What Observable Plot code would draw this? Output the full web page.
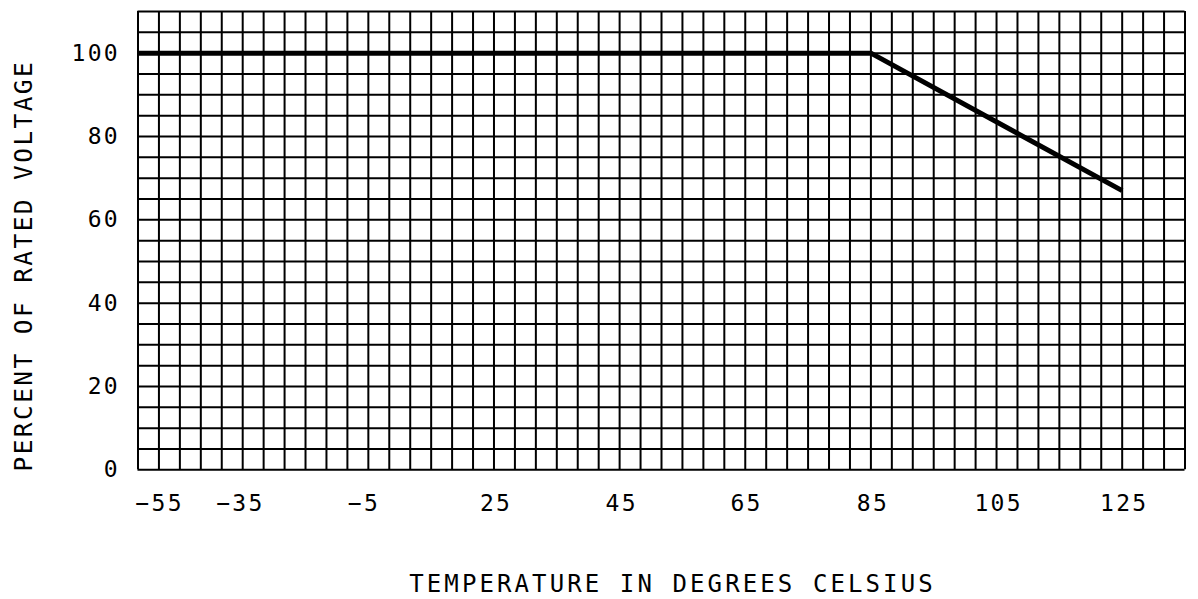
<!DOCTYPE html>
<html>
<head>
<meta charset="utf-8">
<script src="https://cdn.jsdelivr.net/npm/d3@7"></script>
<script src="https://cdn.jsdelivr.net/npm/@observablehq/plot@0.6"></script>
<style>
  html, body { margin: 0; padding: 0; background: #fff; }
  svg text { letter-spacing: 2.3px; }
  svg text.ttl, svg g.ttl text { letter-spacing: 3.1px; }
  svg g.yttl text { letter-spacing: 2.4px; }
</style>
</head>
<body>
<div id="chart"></div>
<script>
// Y axis: percent of rated voltage
const voltTicks = [0, 20, 40, 60, 80, 100];
// X axis: temperature labels and the grid-column position where each label sits
const tempLabels = ["−55", "−35", "−5", "25", "45", "65", "85", "105", "125"];
const labelCols = [1.03, 4.89, 10.79, 17.1, 23.1, 29.06, 35.1, 41.1, 47.1];
// Derating curve, x in grid columns (left edge = 0, 85 °C = 35, 125 °C = 47)
const curveCols = [0, 35, 47];
const curveVolts = [100, 100, 67];
// Graph-paper grid
const gridCols = d3.range(0, 51, 1);
const gridRows = d3.range(0, 111, 5);

const xTitle = "TEMPERATURE IN DEGREES CELSIUS";
const yTitle = "PERCENT OF RATED VOLTAGE";

const curve = curveCols.map((c, i) => ({col: c, volt: curveVolts[i]}));
const labels = tempLabels.map((t, i) => ({t, col: labelCols[i]}));

const chart = Plot.plot({
  width: 1198,
  height: 599,
  marginLeft: 137.5,
  marginRight: 13.5,
  marginTop: 11,
  marginBottom: 129.7,
  style: {fontFamily: "DejaVu Sans Mono", background: "#fff", color: "#000"},
  x: {domain: [0, 50], axis: null},
  y: {domain: [0, 110], axis: null},
  marks: [
    Plot.ruleX(gridCols, {stroke: "#000", strokeWidth: 2}),
    Plot.ruleY(gridRows, {stroke: "#000", strokeWidth: 2}),
    Plot.line(curve, {x: "col", y: "volt", stroke: "#000", strokeWidth: 5, strokeLinecap: "butt", strokeLinejoin: "miter"}),
    Plot.text(voltTicks, {y: d => d, frameAnchor: "left", textAnchor: "end", dx: -18, fontSize: 23, fill: "#000"}),
    Plot.text(labels, {x: "col", text: "t", frameAnchor: "bottom", lineAnchor: "middle", dy: 34, fontSize: 23, fill: "#000"}),
    Plot.text([xTitle], {frameAnchor: "bottom", textAnchor: "middle", lineAnchor: "middle", dx: 11, dy: 115, fontSize: 24, fill: "#000", className: "ttl"}),
    Plot.text([yTitle], {frameAnchor: "left", textAnchor: "middle", lineAnchor: "middle", rotate: -90, dx: -114, dy: 25, fontSize: 24.5, fill: "#000", className: "yttl"})
  ]
});
document.getElementById("chart").appendChild(chart);
</script>
</body>
</html>
